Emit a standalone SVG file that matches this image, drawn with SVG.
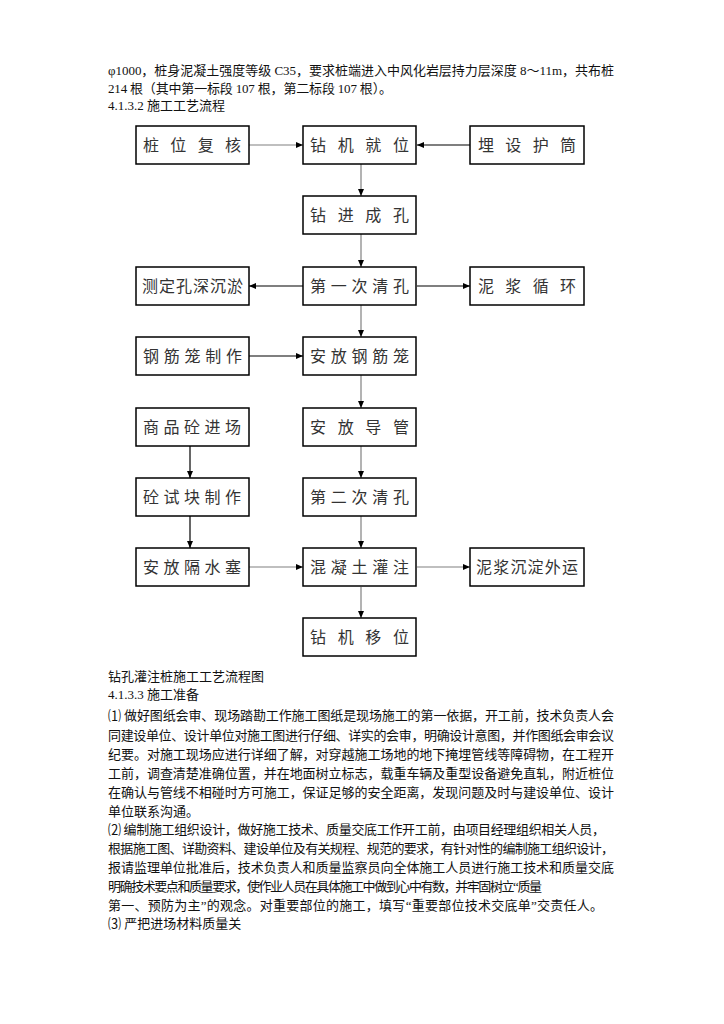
<svg xmlns="http://www.w3.org/2000/svg" width="724" height="1024" viewBox="0 0 724 1024">
<defs>
<style>
.bg{fill:#fff}
.box{fill:#fff;stroke:#000;stroke-width:1.5}
.lbl{font-family:"Liberation Serif","Noto Sans CJK SC",serif;font-size:16px;fill:#333}
.body{font-family:"Liberation Serif","Noto Sans CJK SC",serif;font-size:13px;fill:#111}
.g{stroke:#808080;stroke-width:1.2;fill:none;marker-end:url(#ah)}
.k{stroke:#000;stroke-width:1.2;fill:none;marker-end:url(#ah)}
</style>
<marker id="ah" markerUnits="userSpaceOnUse" markerWidth="8" markerHeight="7" refX="7" refY="3" orient="auto">
<path d="M0,0 L7,3 L0,6 Z" fill="#000"/>
</marker>
</defs>
<rect class="bg" x="0" y="0" width="724" height="1024"/>

<g id="text-top">
<text class="body" x="108" y="75" textLength="506" lengthAdjust="spacing">φ1000，桩身泥凝土强度等级 C35，要求桩端进入中风化岩层持力层深度 8～11m，共布桩</text>
<text class="body" x="108" y="93" textLength="284" lengthAdjust="spacing">214 根（其中第一标段 107 根，第二标段 107 根）。</text>
<text class="body" x="108" y="110">4.1.3.2 施工工艺流程</text>
</g>

<g id="connectors">
<line class="g" x1="249" y1="145" x2="303" y2="145"/>
<line class="k" x1="470" y1="145" x2="417" y2="145"/>
<line class="g" x1="361" y1="164" x2="361" y2="196"/>
<line class="g" x1="361" y1="234" x2="361" y2="267"/>
<line class="k" x1="303" y1="286" x2="249" y2="286"/>
<line class="k" x1="417" y1="286" x2="470" y2="286"/>
<line class="g" x1="361" y1="305" x2="361" y2="337"/>
<line class="k" x1="249" y1="356" x2="303" y2="356"/>
<line class="g" x1="361" y1="375" x2="361" y2="408"/>
<line class="g" x1="361" y1="446" x2="361" y2="478"/>
<line class="k" x1="190" y1="446" x2="190" y2="478"/>
<line class="k" x1="190" y1="516" x2="190" y2="548"/>
<line class="g" x1="361" y1="516" x2="361" y2="548"/>
<line class="g" x1="249" y1="567" x2="303" y2="567"/>
<line class="g" x1="417" y1="567" x2="470" y2="567"/>
<line class="g" x1="361" y1="587" x2="361" y2="618"/>
</g>

<g id="n-zhuangweifuhe"><rect class="box" x="136" y="126" width="113" height="38"/><text class="lbl" x="143" y="151" textLength="98" lengthAdjust="spacing">桩位复核</text></g>
<g id="n-zuanjijiuwei"><rect class="box" x="303" y="126" width="113" height="38"/><text class="lbl" x="310" y="151" textLength="99" lengthAdjust="spacing">钻机就位</text></g>
<g id="n-maishehutong"><rect class="box" x="470" y="126" width="114" height="38"/><text class="lbl" x="478" y="151" textLength="98" lengthAdjust="spacing">埋设护筒</text></g>
<g id="n-zuanjinchengkong"><rect class="box" x="303" y="196" width="113" height="38"/><text class="lbl" x="310" y="221" textLength="99" lengthAdjust="spacing">钻进成孔</text></g>
<g id="n-cedingkongshen"><rect class="box" x="136" y="267" width="113" height="38"/><text class="lbl" x="142" y="292" textLength="101" lengthAdjust="spacing">测定孔深沉淤</text></g>
<g id="n-diyiciqingkong"><rect class="box" x="303" y="267" width="113" height="38"/><text class="lbl" x="310" y="292" textLength="99" lengthAdjust="spacing">第一次清孔</text></g>
<g id="n-nijiangxunhuan"><rect class="box" x="470" y="267" width="114" height="38"/><text class="lbl" x="478" y="292" textLength="98" lengthAdjust="spacing">泥浆循环</text></g>
<g id="n-gangjinlongzhizuo"><rect class="box" x="136" y="337" width="113" height="38"/><text class="lbl" x="143" y="362" textLength="99" lengthAdjust="spacing">钢筋笼制作</text></g>
<g id="n-anfanggangjinlong"><rect class="box" x="303" y="337" width="113" height="38"/><text class="lbl" x="310" y="362" textLength="99" lengthAdjust="spacing">安放钢筋笼</text></g>
<g id="n-shangpintong"><rect class="box" x="136" y="408" width="113" height="38"/><text class="lbl" x="143" y="433" textLength="98" lengthAdjust="spacing">商品砼进场</text></g>
<g id="n-anfangdaoguan"><rect class="box" x="303" y="408" width="113" height="38"/><text class="lbl" x="310" y="433" textLength="99" lengthAdjust="spacing">安放导管</text></g>
<g id="n-tongshikuai"><rect class="box" x="136" y="478" width="113" height="38"/><text class="lbl" x="143" y="503" textLength="98" lengthAdjust="spacing">砼试块制作</text></g>
<g id="n-dierciqingkong"><rect class="box" x="303" y="478" width="113" height="38"/><text class="lbl" x="310" y="503" textLength="99" lengthAdjust="spacing">第二次清孔</text></g>
<g id="n-anfanggeshuisai"><rect class="box" x="136" y="548" width="113" height="38"/><text class="lbl" x="143" y="573" textLength="98" lengthAdjust="spacing">安放隔水塞</text></g>
<g id="n-hunningtuguanzhu"><rect class="box" x="303" y="548" width="113" height="38"/><text class="lbl" x="310" y="573" textLength="99" lengthAdjust="spacing">混凝土灌注</text></g>
<g id="n-nijiangchendian"><rect class="box" x="470" y="548" width="114" height="38"/><text class="lbl" x="476" y="573" textLength="102" lengthAdjust="spacing">泥浆沉淀外运</text></g>
<g id="n-zuanjiyiwei"><rect class="box" x="303" y="618" width="113" height="38"/><text class="lbl" x="310" y="643" textLength="99" lengthAdjust="spacing">钻机移位</text></g>

<g id="text-bottom">
<text class="body" x="108" y="681">钻孔灌注桩施工工艺流程图</text>
<text class="body" x="108" y="699">4.1.3.3 施工准备</text>
<text class="body" x="108" y="720" textLength="506" lengthAdjust="spacing">⑴ 做好图纸会审、现场踏勘工作施工图纸是现场施工的第一依据，开工前，技术负责人会</text>
<text class="body" x="108" y="740" textLength="506" lengthAdjust="spacing">同建设单位、设计单位对施工图进行仔细、详实的会审，明确设计意图，并作图纸会审会议</text>
<text class="body" x="108" y="759" textLength="506" lengthAdjust="spacing">纪要。对施工现场应进行详细了解，对穿越施工场地的地下掩埋管线等障碍物，在工程开</text>
<text class="body" x="108" y="778" textLength="506" lengthAdjust="spacing">工前，调查清楚准确位置，并在地面树立标志，载重车辆及重型设备避免直轧，附近桩位</text>
<text class="body" x="108" y="797" textLength="506" lengthAdjust="spacing">在确认与管线不相碰时方可施工，保证足够的安全距离，发现问题及时与建设单位、设计</text>
<text class="body" x="108" y="816">单位联系沟通。</text>
<text class="body" x="108" y="834" textLength="497" lengthAdjust="spacing">⑵ 编制施工组织设计，做好施工技术、质量交底工作开工前，由项目经理组织相关人员，</text>
<text class="body" x="108" y="853" textLength="506" lengthAdjust="spacing">根据施工图、详勘资料、建设单位及有关规程、规范的要求，有针对性的编制施工组织设计，</text>
<text class="body" x="108" y="872" textLength="506" lengthAdjust="spacing">报请监理单位批准后，技术负责人和质量监察员向全体施工人员进行施工技术和质量交底</text>
<text class="body" x="108" y="891" textLength="434" lengthAdjust="spacing">明确技术要点和质量要求，使作业人员在具体施工中做到心中有数，并牢固树立“质量</text>
<text class="body" x="108" y="910" textLength="495" lengthAdjust="spacing">第一、预防为主”的观念。对重要部位的施工，填写“重要部位技术交底单”交责任人。</text>
<text class="body" x="108" y="928">⑶ 严把进场材料质量关</text>
</g>
</svg>
